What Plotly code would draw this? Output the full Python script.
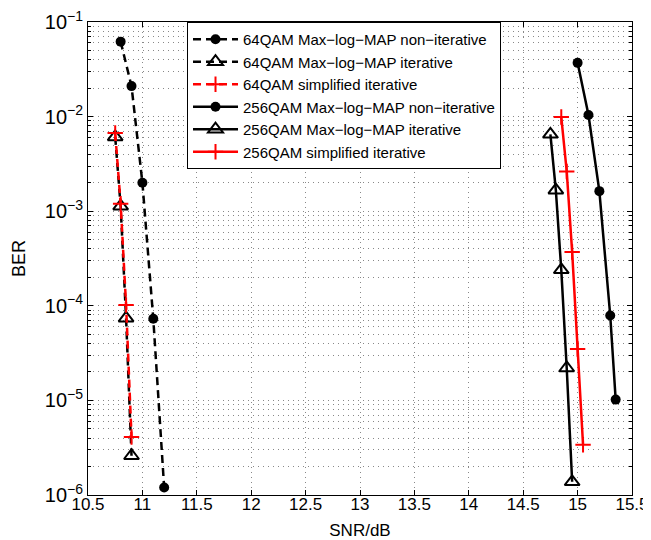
import plotly.graph_objects as go

# ---- data ----
snr_64_noniter = [10.8, 10.9, 11.0, 11.1, 11.2]
ber_64_noniter = [0.062, 0.021, 0.0020, 7.3e-5, 1.2e-6]

snr_64_iter = [10.75, 10.8, 10.85, 10.9]
ber_64_iter = [0.0061, 0.00113, 7.4e-5, 2.6e-6]

snr_64_simp = [10.75, 10.8, 10.85, 10.9]
ber_64_simp = [0.0067, 0.0012, 1.02e-4, 4.1e-6]

snr_256_noniter = [15.0, 15.1, 15.2, 15.3, 15.35]
ber_256_noniter = [0.037, 0.0104, 0.00163, 7.9e-5, 1.02e-5]

snr_256_iter = [14.75, 14.8, 14.85, 14.9, 14.95]
ber_256_iter = [0.0065, 0.00167, 2.4e-4, 2.2e-5, 1.38e-6]

snr_256_simp = [14.85, 14.9, 14.95, 15.0, 15.05]
ber_256_simp = [0.0099, 0.00263, 3.7e-4, 3.5e-5, 3.4e-6]

names = [
    "64QAM Max−log−MAP non−iterative",
    "64QAM Max−log−MAP iterative",
    "64QAM simplified iterative",
    "256QAM Max−log−MAP non−iterative",
    "256QAM Max−log−MAP iterative",
    "256QAM simplified iterative",
]

x_ticks = [10.5, 11, 11.5, 12, 12.5, 13, 13.5, 14, 14.5, 15, 15.5]
x_ticktext = ["10.5", "11", "11.5", "12", "12.5", "13", "13.5", "14", "14.5", "15", "15.5"]
y_ticks = [1e-6, 1e-5, 1e-4, 1e-3, 1e-2, 1e-1]
y_ticktext = ["10<sup>−6</sup>", "10<sup>−5</sup>", "10<sup>−4</sup>",
              "10<sup>−3</sup>", "10<sup>−2</sup>", "10<sup>−1</sup>"]

FONT = "Liberation Sans, Arial, sans-serif"
DASH = "8px,5px"
LW = 2.5

fig = go.Figure()

series = [
    (snr_64_noniter, ber_64_noniter, "black", DASH, dict(symbol="circle", size=10, color="black")),
    (snr_64_iter, ber_64_iter, "black", DASH,
     dict(symbol="triangle-up-open", size=13, color="black", line=dict(width=2, color="black"))),
    (snr_64_simp, ber_64_simp, "red", DASH,
     dict(symbol="cross-thin", size=11, color="red", line=dict(width=2, color="red"))),
    (snr_256_noniter, ber_256_noniter, "black", "solid", dict(symbol="circle", size=10, color="black")),
    (snr_256_iter, ber_256_iter, "black", "solid",
     dict(symbol="triangle-up-open", size=13, color="black", line=dict(width=2, color="black"))),
    (snr_256_simp, ber_256_simp, "red", "solid",
     dict(symbol="cross-thin", size=11, color="red", line=dict(width=2, color="red"))),
]

for (x, y, c, d, m), n in zip(series, names):
    fig.add_trace(go.Scatter(x=x, y=y, name=n, mode="lines+markers",
                             line=dict(color=c, width=LW, dash=d), marker=m))

grid_common = dict(gridcolor="#888888", gridwidth=1, griddash="1px,4px")

# the page body has an 8px default margin, so the figure is sized to end at 651x540
fig.update_layout(
    width=643, height=532,
    margin=dict(l=80, r=19, t=14, b=45),
    paper_bgcolor="white", plot_bgcolor="white",
    font=dict(family=FONT, size=17, color="black"),
    showlegend=True,
    legend=dict(x=0.182, y=1.0, xanchor="left", yanchor="top",
                bgcolor="white", bordercolor="black", borderwidth=1,
                font=dict(family=FONT, size=15, color="black"),
                itemwidth=45, tracegroupgap=0),
    xaxis=dict(
        range=[10.5, 15.5], tickvals=x_ticks, ticktext=x_ticktext,
        ticks="inside", ticklen=5, tickcolor="black", mirror="allticks",
        showline=True, linecolor="black", linewidth=1, automargin=False,
        ticklabeloverflow="allow", ticklabelstandoff=-6,
        showgrid=True, zeroline=False, tickfont=dict(size=17),
        title=dict(text="SNR/dB", font=dict(size=17), standoff=10),
        **grid_common,
    ),
    yaxis=dict(
        type="log", range=[-6, -1], tickvals=y_ticks, ticktext=y_ticktext,
        ticks="inside", ticklen=5, tickcolor="black", mirror="allticks",
        showline=True, linecolor="black", linewidth=1, automargin=False,
        ticklabeloverflow="allow",
        showgrid=True, zeroline=False, tickfont=dict(size=20),
        title=dict(text="BER", font=dict(size=18), standoff=14),
        minor=dict(dtick="D1", ticks="inside", ticklen=3, tickcolor="black",
                   showgrid=True, gridcolor="#888888", gridwidth=1, griddash="1px,4px"),
        **grid_common,
    ),
)

fig.write_html("out.html")
